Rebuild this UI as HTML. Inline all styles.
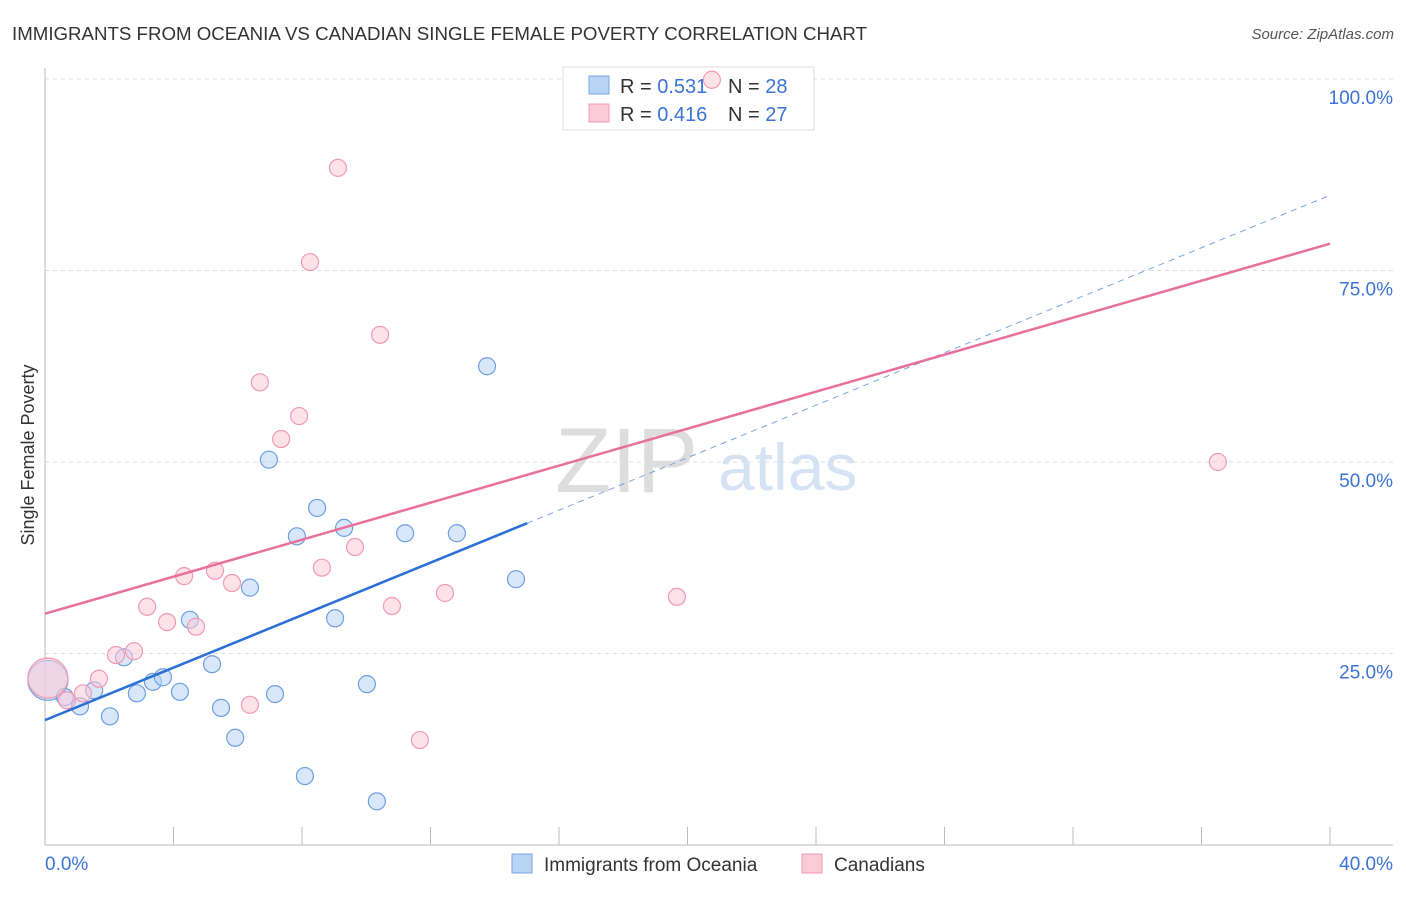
<!DOCTYPE html>
<html><head><meta charset="utf-8">
<style>
body{margin:0;background:#fff;font-family:"Liberation Sans",sans-serif;}
svg text{font-family:"Liberation Sans",sans-serif;}
</style></head>
<body>
<svg id="chart" width="1406" height="892" xmlns="http://www.w3.org/2000/svg">
<text x="12" y="40" font-size="18" fill="#333" textLength="855" lengthAdjust="spacingAndGlyphs">IMMIGRANTS FROM OCEANIA VS CANADIAN SINGLE FEMALE POVERTY CORRELATION CHART</text>
<text x="1394" y="39" font-size="15" fill="#555" font-style="italic" text-anchor="end">Source: ZipAtlas.com</text>
<text x="555" y="492" font-size="92" fill="#ddd" font-family="Liberation Serif">ZIP</text>
<text x="718" y="490" font-size="66" fill="#d6e3f5">atlas</text>
<g id="grid"></g>
<g id="axes"></g>
<text transform="translate(34,455) rotate(-90)" font-size="18" fill="#333" text-anchor="middle">Single Female Poverty</text>
<g>
<rect x="563" y="67" width="251" height="63" fill="#fff" stroke="#ddd"/>
<rect x="589" y="76" width="20" height="18" fill="#b8d4f5" stroke="#7aa6e0"/>
<rect x="589" y="104" width="20" height="18" fill="#fccbd8" stroke="#f09ab3"/>
<text x="620" y="93" font-size="20" fill="#333">R = <tspan fill="#3b73d6">0.531</tspan></text>
<text x="728" y="93" font-size="20" fill="#333">N = <tspan fill="#3b73d6">28</tspan></text>
<text x="620" y="121" font-size="20" fill="#333">R = <tspan fill="#3b73d6">0.416</tspan></text>
<text x="728" y="121" font-size="20" fill="#333">N = <tspan fill="#3b73d6">27</tspan></text>
</g>
<g id="marks"></g>
<g>
<rect x="512" y="854" width="20" height="19" fill="#b8d4f5" stroke="#7aa6e0"/>
<text x="544" y="871" font-size="19" fill="#333">Immigrants from Oceania</text>
<rect x="802" y="854" width="20" height="19" fill="#fccbd8" stroke="#f09ab3"/>
<text x="834" y="871" font-size="19" fill="#333">Canadians</text>
</g>
</svg>
<script>
const blueX=[0.09,0.62,1.09,1.53,2.02,2.46,2.86,3.36,3.67,4.20,4.51,5.20,5.48,5.92,6.38,6.97,7.16,7.84,8.09,8.47,9.03,9.31,10.02,10.33,11.21,12.82,13.76,14.66];
const blueY=[21.5,19.3,18.1,20.2,16.8,24.5,19.8,21.3,21.9,20.0,29.4,23.6,17.9,14.0,33.6,50.3,19.7,40.3,9.0,44.0,29.6,41.4,21.0,5.7,40.7,40.7,62.5,34.7];
const pinkX=[0.09,0.68,1.18,1.68,2.21,2.77,3.18,3.80,4.33,4.70,5.29,5.82,6.38,6.69,7.35,7.91,8.25,8.62,9.12,9.65,10.43,10.80,11.67,12.45,19.67,20.76,36.51];
const pinkY=[21.8,18.9,19.8,21.7,24.8,25.3,31.1,29.1,35.1,28.5,35.8,34.2,18.3,60.4,53.0,56.0,76.1,36.2,88.4,38.9,66.6,31.2,13.7,32.9,32.4,99.9,50.0];
const blueTrend=[16.3,1.713]; // intercept, slope
const pinkTrend=[30.2,1.2075];
const yTicks=[25,50,75,100];
const yTickLabels=["25.0%","50.0%","75.0%","100.0%"];
const xTicks=[0,4,8,12,16,20,24,28,32,36,40];
const xTickLabels=["0.0%","40.0%"];
const NS="http://www.w3.org/2000/svg";
const sx=v=>45+v/40*1285;
const sy=v=>845-v/100*766;
function mk(tag,attrs,parent){const e=document.createElementNS(NS,tag);for(const k in attrs)e.setAttribute(k,attrs[k]);parent.appendChild(e);return e;}
const grid=document.getElementById('grid'),axes=document.getElementById('axes'),marks=document.getElementById('marks');
yTicks.forEach((t,i)=>{
 const l=mk('line',{x1:45,x2:1393,y1:sy(t),y2:sy(t),stroke:'#ddd','stroke-dasharray':'4,4'},grid);
 
 
 const tx=mk('text',{x:1393,y:sy(t)+25,'font-size':19,fill:'#3b73d6','text-anchor':'end'},axes);
 tx.textContent=yTickLabels[i];
 
 
});
mk('line',{x1:45,x2:45,y1:68,y2:845,stroke:'#bbb'},axes);
mk('line',{x1:45,x2:1393,y1:845,y2:845,stroke:'#bbb'},axes);
xTicks.forEach(t=>{
 const l=mk('line',{x1:sx(t),x2:sx(t),y1:827,y2:845,stroke:'#bbb'},axes);
 
 
});
[[xTickLabels[0],45,'start'],[xTickLabels[1],1393,'end']].forEach(a=>{
 const tx=mk('text',{x:a[1],y:870,'font-size':19,fill:'#3b73d6','text-anchor':a[2]},axes);
 tx.textContent=a[0];
 
 
});
function pts(xs,ys,fill,stroke,name){
 xs.forEach((x,i)=>{
  const big=i===0;
  const c=mk('circle',{cx:sx(x),cy:sy(ys[i]),r:big?20:8.5,fill:fill,'fill-opacity':big?0.6:0.55,stroke:stroke,'stroke-width':1.2},marks);
  
  
 });
}
pts(blueX,blueY,'#b8d4f5','#6f9fdf','point-oceania');
pts(pinkX,pinkY,'#fccbd8','#f09ab3','point-canadians');
const bEnd=Math.max(...blueX)+0.35;
let l=mk('line',{x1:sx(0),y1:sy(blueTrend[0]),x2:sx(bEnd),y2:sy(blueTrend[0]+blueTrend[1]*bEnd),stroke:'#2a6fd6','stroke-width':2.5},marks);


l=mk('line',{x1:sx(bEnd),y1:sy(blueTrend[0]+blueTrend[1]*bEnd),x2:sx(40),y2:sy(blueTrend[0]+blueTrend[1]*40),stroke:'#7aa3dd','stroke-width':1,'stroke-dasharray':'6,5'},marks);


l=mk('line',{x1:sx(0),y1:sy(pinkTrend[0]),x2:sx(40),y2:sy(pinkTrend[0]+pinkTrend[1]*40),stroke:'#e8709a','stroke-width':2.5},marks);


</script>
</body></html>
